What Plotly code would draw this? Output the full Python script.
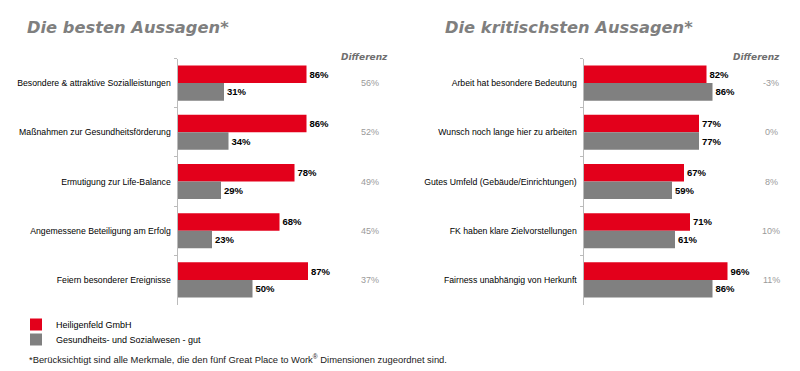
import plotly.graph_objects as go

W, H = 800, 371

left_cats = ["Besondere & attraktive Sozialleistungen", "Maßnahmen zur Gesundheitsförderung",
             "Ermutigung zur Life-Balance", "Angemessene Beteiligung am Erfolg",
             "Feiern besonderer Ereignisse"]
left_company = [86, 86, 78, 68, 87]
left_bench = [31, 34, 29, 23, 50]
left_diff = ["56%", "52%", "49%", "45%", "37%"]

right_cats = ["Arbeit hat besondere Bedeutung", "Wunsch noch lange hier zu arbeiten",
              "Gutes Umfeld (Gebäude/Einrichtungen)", "FK haben klare Zielvorstellungen",
              "Fairness unabhängig von Herkunft"]
right_company = [82, 77, 67, 71, 96]
right_bench = [86, 77, 59, 61, 86]
right_diff = ["-3%", "0%", "8%", "10%", "11%"]

series_names = ["Heiligenfeld GmbH", "Gesundheits- und Sozialwesen - gut"]
titles = ["Die besten Aussagen*", "Die kritischsten Aussagen*"]
diff_header = "Differenz"
footnote = "*Berücksichtigt sind alle Merkmale, die den fünf Great Place to Work<sup>®</sup> Dimensionen zugeordnet sind."

RED = "#E3001B"
GREY = "#808080"
LBL_FONT = dict(family="Liberation Sans, Arial", size=8.7, color="#000000")
VAL_FONT = dict(family="Liberation Sans, Arial", size=9.5, color="#000000", weight="bold")

fig = go.Figure()

def add_panel(cats, comp, bench, xa, ya, show):
    fig.add_trace(go.Bar(y=cats, x=comp, orientation="h", name=series_names[0],
                         marker=dict(color=RED, line=dict(width=0)),
                         text=[f"{v}%" for v in comp], textposition="outside",
                         textfont=VAL_FONT, cliponaxis=False, constraintext="none",
                         xaxis=xa, yaxis=ya, showlegend=show, legend="legend",
                         hoverinfo="skip"))
    fig.add_trace(go.Bar(y=cats, x=bench, orientation="h", name=series_names[1],
                         marker=dict(color=GREY, line=dict(width=0)),
                         text=[f"{v}%" for v in bench], textposition="outside",
                         textfont=VAL_FONT, cliponaxis=False, constraintext="none",
                         xaxis=xa, yaxis=ya, showlegend=show, legend="legend2",
                         hoverinfo="skip"))

add_panel(left_cats, left_company, left_bench, "x", "y", True)
add_panel(right_cats, right_company, right_bench, "x2", "y2", False)

ydom = [1 - 304.5 / H, 1 - 58.5 / H]
xcommon = dict(range=[0, 100], showgrid=False, zeroline=False, showticklabels=False,
               showline=False, ticks="", fixedrange=True)
ycommon = dict(autorange="reversed", showgrid=False, zeroline=False, showline=True,
               linecolor="#BBBBBB", linewidth=1, ticks="outside", ticklen=3,
               tickcolor="#BBBBBB", tickson="boundaries", tickfont=LBL_FONT,
               ticklabelstandoff=4, domain=ydom, fixedrange=True)

LEG_FONT = dict(family="Liberation Sans, Arial", size=9, color="#000000")
fig.update_layout(
    width=W, height=H, margin=dict(l=0, r=0, t=0, b=0, autoexpand=False),
    paper_bgcolor="white", plot_bgcolor="white",
    barmode="group", bargap=0.286, bargroupgap=0,
    xaxis=dict(domain=[177.5 / W, 327.5 / W], anchor="y", **xcommon),
    xaxis2=dict(domain=[583.5 / W, 733.5 / W], anchor="y2", **xcommon),
    yaxis=dict(anchor="x", categoryorder="array", categoryarray=left_cats, **ycommon),
    yaxis2=dict(anchor="x2", categoryorder="array", categoryarray=right_cats, **ycommon),
    legend=dict(x=16 / W, xanchor="left", y=1 - 324.5 / H, yanchor="middle",
                font=LEG_FONT, bgcolor="rgba(0,0,0,0)"),
    legend2=dict(x=16 / W, xanchor="left", y=1 - 339.5 / H, yanchor="middle",
                 font=LEG_FONT, bgcolor="rgba(0,0,0,0)"),
    showlegend=True,
)

ann = []
TITLE_FONT = dict(family="DejaVu Sans", size=16.3, color="#7F7F7F", weight="bold", style="italic")
ann.append(dict(text=titles[0], x=25 / W, y=1 - 27.5 / H, xref="paper", yref="paper",
                xanchor="left", yanchor="middle", showarrow=False, font=TITLE_FONT))
ann.append(dict(text=titles[1], x=443 / W, y=1 - 27.5 / H, xref="paper", yref="paper",
                xanchor="left", yanchor="middle", showarrow=False, font=TITLE_FONT))
HDR_FONT = dict(family="DejaVu Sans", size=9, color="#6F6F6F", weight="bold", style="italic")
for cx in (364 / W, 756 / W):
    ann.append(dict(text=diff_header, x=cx, y=1 - 57 / H, xref="paper", yref="paper",
                    xanchor="center", yanchor="middle", showarrow=False, font=HDR_FONT))
DIFF_FONT = dict(family="Liberation Sans, Arial", size=9, color="#9A9A9A")
for cats, diffs, cx, yref in ((left_cats, left_diff, 370 / W, "y"),
                              (right_cats, right_diff, 771 / W, "y2")):
    for c, d in zip(cats, diffs):
        ann.append(dict(text=d, x=cx, y=c, xref="paper", yref=yref,
                        xanchor="center", yanchor="middle", showarrow=False, font=DIFF_FONT))
ann.append(dict(text=footnote, x=27 / W, y=1 - 358.5 / H, xref="paper", yref="paper",
                xanchor="left", yanchor="middle", showarrow=False,
                font=dict(family="Liberation Sans, Arial", size=9.4, color="#1A1A1A")))
fig.update_layout(annotations=ann)

fig.write_html("out.html", config={"displayModeBar": False},
               post_script="document.body.style.margin='0';document.body.style.overflow='hidden';")
